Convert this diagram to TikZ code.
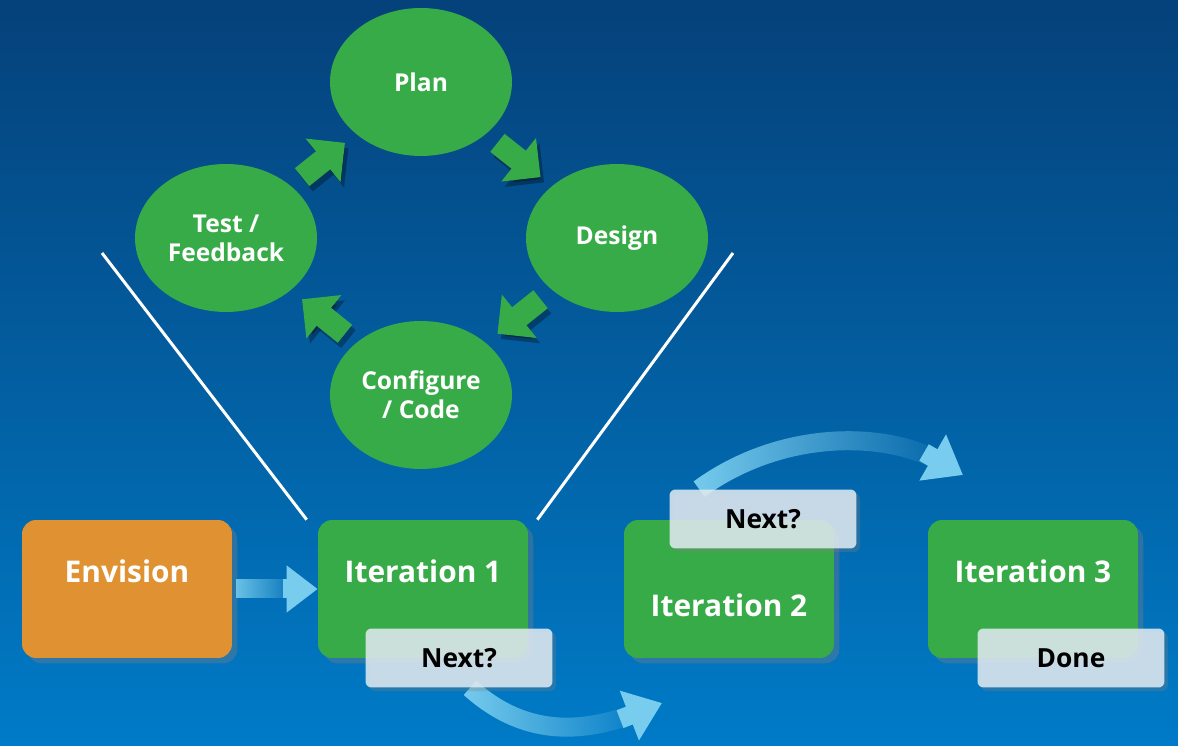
\documentclass[tikz,border=0pt]{standalone}
\usepackage{fontspec}
\setmainfont{Open Sans}
\usetikzlibrary{arrows.meta,shapes.geometric,shadows,fadings,calc}

\definecolor{bgtop}{RGB}{5,65,122}
\definecolor{bgbottom}{RGB}{0,123,199}
\definecolor{stepgreen}{RGB}{55,171,71}
\definecolor{envorange}{RGB}{224,146,50}
\definecolor{notewhite}{RGB}{227,236,243}
\definecolor{flowblue}{RGB}{120,205,238}

\pgfdeclarelayer{backdrop}
\pgfdeclarelayer{flows}
\pgfsetlayers{backdrop,flows,main}

\begin{document}
\begin{tikzpicture}[x=0.02cm,y=-0.02cm,
	phase/.style={ellipse,fill=stepgreen,text=white,minimum width=3.64cm,minimum height=2.96cm,inner sep=0pt,align=center,font=\fontsize{14}{16.5}\selectfont\bfseries},
	iter/.style={rounded corners=0.28cm,fill=stepgreen,minimum width=4.2cm,minimum height=2.76cm,drop shadow={opacity=0.35,shadow xshift=3pt,shadow yshift=-3pt}},
	itertext/.style={text=white,font=\fontsize{17}{20}\selectfont\bfseries},
	note/.style={rounded corners=0.12cm,fill=notewhite,fill opacity=0.85,text opacity=1,minimum width=3.74cm,minimum height=1.18cm,font=\fontsize{15}{18}\selectfont\bfseries,drop shadow={opacity=0.3,shadow xshift=2pt,shadow yshift=-2pt}},
	cycle/.style={line width=0.46cm,stepgreen,-{Triangle[length=0.56cm,width=1.08cm]}},
	cycleshadow/.style={cycle,black,opacity=0.3,transform canvas={shift={(2pt,-3pt)}}},
	flow/.style={line width=0.38cm,flowblue,path fading=east},
	flowtip/.style={line width=0.38cm,flowblue,-{Triangle[length=0.7cm,width=1.02cm]}}]

	\useasboundingbox (0,0) rectangle (1178,746);
	\begin{pgfonlayer}{backdrop}
		\shade[top color=bgtop,bottom color=bgbottom] (0,0) rectangle (1178,746);
	\end{pgfonlayer}

	% the plan-design-code-test loop
	\node[phase] (plan) at (421,82) {Plan};
	\node[phase] (design) at (617,238) {Design};
	\node[phase] (config) at (421,395) {Configure\\/ Code};
	\node[phase] (test) at (226,238) {Test /\\Feedback};

	\foreach \a/\b in {test/plan,plan/design,design/config,config/test}{
		\draw[cycleshadow] ($(\a)!0.39!(\b)$) -- ($(\a)!0.61!(\b)$);
		\draw[cycle] ($(\a)!0.39!(\b)$) -- ($(\a)!0.61!(\b)$);
	}

	% iterations
	\node[iter,fill=envorange,label={[itertext,yshift=0.36cm]center:Envision}] (env) at (127,589) {};
	\node[iter,label={[itertext,yshift=0.36cm]center:Iteration 1}] (it1) at (423,589) {};
	\node[iter,label={[itertext,yshift=-0.32cm]center:Iteration 2}] (it2) at (729,589) {};
	\node[iter,label={[itertext,yshift=0.36cm]center:Iteration 3}] (it3) at (1033,589) {};

	\node[note] (next1) at (459,658) {Next?};
	\node[note] (next2) at (763,519) {Next?};
	\node[note] (done) at (1071,658) {Done};

	% zoom lines
	\coordinate (zl) at (102,253);
	\coordinate (zr) at (733,253);
	\draw[white,line width=0.06cm] ([xshift=-0.22cm]it1.north west) -- (zl);
	\draw[white,line width=0.06cm] ([xshift=0.18cm]it1.north east) -- (zr);

	\draw[flow] ([xshift=0.08cm]env.east) -- ([xshift=-0.6cm]it1.west);
	\draw[flowtip,-{Triangle[length=0.62cm,width=0.9cm]}] ([xshift=-0.7cm]it1.west) -- (it1.west);

	\begin{pgfonlayer}{flows}
		\coordinate (tipa) at (662,703);
		\coordinate (tipb) at (963,475);
		\draw[flow] ([xshift=0.22cm]next1.south) .. controls (530,742) and (592,730) .. ($(tipa)!0.5cm!(592,730)$);
		\draw[flowtip] ($(tipa)!0.9cm!(592,730)$) -- (tipa);
		\draw[flow] ([xshift=0.6cm]next2.north west) .. controls (780,430) and (885,430) .. ($(tipb)!0.5cm!(885,430)$);
		\draw[flowtip] ($(tipb)!0.9cm!(885,430)$) -- (tipb);
	\end{pgfonlayer}
\end{tikzpicture}
\end{document}
